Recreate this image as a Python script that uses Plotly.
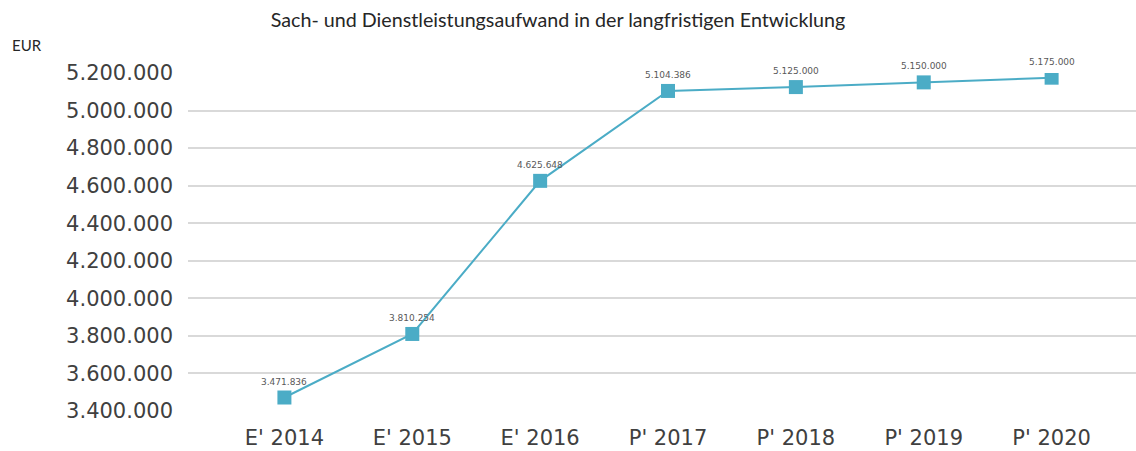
import plotly.graph_objects as go

categories = ["E' 2014", "E' 2015", "E' 2016", "P' 2017", "P' 2018", "P' 2019", "P' 2020"]
values = [3471836, 3810254, 4625648, 5104386, 5125000, 5150000, 5175000]
value_labels = ["3.471.836", "3.810.254", "4.625.648", "5.104.386", "5.125.000", "5.150.000", "5.175.000"]
y_ticks = [3400000, 3600000, 3800000, 4000000, 4200000, 4400000, 4600000, 4800000, 5000000, 5200000]
y_tick_labels = ["3.400.000", "3.600.000", "3.800.000", "4.000.000", "4.200.000", "4.400.000",
                 "4.600.000", "4.800.000", "5.000.000", "5.200.000"]
title_text = "Sach- und Dienstleistungsaufwand in der langfristigen Entwicklung"

color = "#4BACC6"
W, H = 1136, 451

fig = go.Figure()
fig.add_trace(go.Scatter(
    x=list(range(len(categories))), y=values, mode="lines+markers",
    line=dict(color=color, width=2),
    marker=dict(symbol="square", size=14, color=color),
    hoverinfo="skip", showlegend=False,
))

for i, (v, t) in enumerate(zip(values, value_labels)):
    fig.add_annotation(x=i, y=v, text=t, showarrow=False, yshift=16,
                       font=dict(family="DejaVu Sans", size=9, color="#595959"))

plot_l, plot_r, plot_t, plot_b = 188, 1136, 73, 411
pw, ph = plot_r - plot_l, plot_b - plot_t

fig.update_layout(
    width=W, height=H,
    margin=dict(l=plot_l, r=W - plot_r, t=plot_t, b=H - plot_b, pad=0),
    paper_bgcolor="white", plot_bgcolor="white",
    title=dict(text=title_text, x=558 / W, xanchor="center", xref="container",
               y=1 - 20 / H, yanchor="middle", yref="container",
               font=dict(family="Lato", size=19.7, color="#262626")),
    xaxis=dict(range=[-0.754, 6.66], tickmode="array", tickvals=list(range(len(categories))),
               ticktext=categories, showgrid=False, zeroline=False, showline=False,
               tickfont=dict(family="DejaVu Sans", size=21, color="#404040"), ticklen=0,
               ticklabelstandoff=12),
    yaxis=dict(range=[3400000, 5200000], tickmode="array", tickvals=y_ticks, ticktext=y_tick_labels,
               showgrid=True, gridcolor="#d9d9d9", gridwidth=1.5, zeroline=False, showline=False,
               tickfont=dict(family="DejaVu Sans", size=21, color="#404040"), ticklen=0,
               ticklabelstandoff=14),
)

fig.add_annotation(xref="paper", yref="paper", x=(10 - plot_l) / pw, y=(plot_b - 45) / ph,
                   xanchor="left", yanchor="middle",
                   text="EUR", showarrow=False, font=dict(family="Lato", size=15, color="#262626"))

fig.write_html("out.html", config={"displayModeBar": False},
               post_script="document.body.style.margin='0';")
